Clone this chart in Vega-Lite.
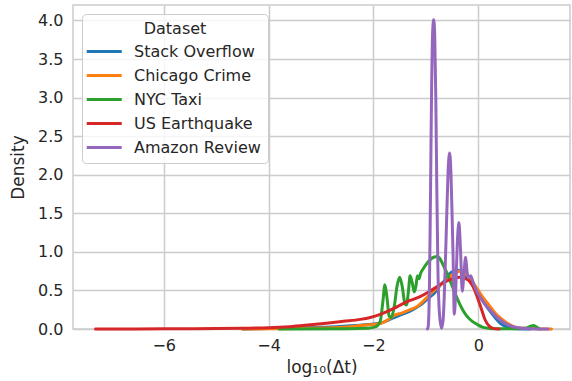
{
  "$schema": "https://vega.github.io/schema/vega-lite/v6.json",
  "width": 497,
  "height": 324,
  "autosize": "none",
  "padding": {"left": 73, "top": 5, "right": 2, "bottom": 52},
  "background": "white",
  "datasets": {
    "kde": [
      {"d": "Stack Overflow", "x": -4.5, "y": 0}, {"d": "Stack Overflow", "x": -4, "y": 0.005}, {"d": "Stack Overflow", "x": -3.5, "y": 0.012}, {"d": "Stack Overflow", "x": -3, "y": 0.022}, {"d": "Stack Overflow", "x": -2.5, "y": 0.04}, {"d": "Stack Overflow", "x": -2.25, "y": 0.05}, {"d": "Stack Overflow", "x": -2.0, "y": 0.065}, {"d": "Stack Overflow", "x": -1.85, "y": 0.08}, {"d": "Stack Overflow", "x": -1.62, "y": 0.146}, {"d": "Stack Overflow", "x": -1.45, "y": 0.19}, {"d": "Stack Overflow", "x": -1.3, "y": 0.23}, {"d": "Stack Overflow", "x": -1.15, "y": 0.29}, {"d": "Stack Overflow", "x": -1.05, "y": 0.34}, {"d": "Stack Overflow", "x": -0.95, "y": 0.4}, {"d": "Stack Overflow", "x": -0.83, "y": 0.47}, {"d": "Stack Overflow", "x": -0.72, "y": 0.57}, {"d": "Stack Overflow", "x": -0.6, "y": 0.66}, {"d": "Stack Overflow", "x": -0.54, "y": 0.72}, {"d": "Stack Overflow", "x": -0.47, "y": 0.75}, {"d": "Stack Overflow", "x": -0.4, "y": 0.76}, {"d": "Stack Overflow", "x": -0.33, "y": 0.75}, {"d": "Stack Overflow", "x": -0.25, "y": 0.7}, {"d": "Stack Overflow", "x": -0.16, "y": 0.62}, {"d": "Stack Overflow", "x": -0.08, "y": 0.54}, {"d": "Stack Overflow", "x": 0, "y": 0.46}, {"d": "Stack Overflow", "x": 0.08, "y": 0.37}, {"d": "Stack Overflow", "x": 0.16, "y": 0.29}, {"d": "Stack Overflow", "x": 0.25, "y": 0.21}, {"d": "Stack Overflow", "x": 0.33, "y": 0.14}, {"d": "Stack Overflow", "x": 0.41, "y": 0.08}, {"d": "Stack Overflow", "x": 0.5, "y": 0.04}, {"d": "Stack Overflow", "x": 0.6, "y": 0.012}, {"d": "Stack Overflow", "x": 0.75, "y": 0.003}, {"d": "Stack Overflow", "x": 1.0, "y": 0},

      {"d": "Chicago Crime", "x": -4.5, "y": 0}, {"d": "Chicago Crime", "x": -4, "y": 0.003}, {"d": "Chicago Crime", "x": -3.5, "y": 0.006}, {"d": "Chicago Crime", "x": -3, "y": 0.012}, {"d": "Chicago Crime", "x": -2.5, "y": 0.025}, {"d": "Chicago Crime", "x": -2.25, "y": 0.045}, {"d": "Chicago Crime", "x": -2.0, "y": 0.06}, {"d": "Chicago Crime", "x": -1.85, "y": 0.075}, {"d": "Chicago Crime", "x": -1.7, "y": 0.13}, {"d": "Chicago Crime", "x": -1.62, "y": 0.17}, {"d": "Chicago Crime", "x": -1.45, "y": 0.21}, {"d": "Chicago Crime", "x": -1.3, "y": 0.25}, {"d": "Chicago Crime", "x": -1.15, "y": 0.3}, {"d": "Chicago Crime", "x": -1.05, "y": 0.36}, {"d": "Chicago Crime", "x": -0.95, "y": 0.43}, {"d": "Chicago Crime", "x": -0.83, "y": 0.51}, {"d": "Chicago Crime", "x": -0.72, "y": 0.57}, {"d": "Chicago Crime", "x": -0.6, "y": 0.63}, {"d": "Chicago Crime", "x": -0.54, "y": 0.68}, {"d": "Chicago Crime", "x": -0.45, "y": 0.72}, {"d": "Chicago Crime", "x": -0.35, "y": 0.75}, {"d": "Chicago Crime", "x": -0.25, "y": 0.72}, {"d": "Chicago Crime", "x": -0.16, "y": 0.66}, {"d": "Chicago Crime", "x": -0.08, "y": 0.58}, {"d": "Chicago Crime", "x": 0, "y": 0.5}, {"d": "Chicago Crime", "x": 0.08, "y": 0.42}, {"d": "Chicago Crime", "x": 0.16, "y": 0.35}, {"d": "Chicago Crime", "x": 0.25, "y": 0.27}, {"d": "Chicago Crime", "x": 0.33, "y": 0.2}, {"d": "Chicago Crime", "x": 0.41, "y": 0.15}, {"d": "Chicago Crime", "x": 0.5, "y": 0.1}, {"d": "Chicago Crime", "x": 0.6, "y": 0.056}, {"d": "Chicago Crime", "x": 0.7, "y": 0.025}, {"d": "Chicago Crime", "x": 0.8, "y": 0.013}, {"d": "Chicago Crime", "x": 1.0, "y": 0.005}, {"d": "Chicago Crime", "x": 1.2, "y": 0.001}, {"d": "Chicago Crime", "x": 1.4, "y": 0},

      {"d": "NYC Taxi", "x": -3.8, "y": 0}, {"d": "NYC Taxi", "x": -2.5, "y": 0.003}, {"d": "NYC Taxi", "x": -2.1, "y": 0.01}, {"d": "NYC Taxi", "x": -1.95, "y": 0.03}, {"d": "NYC Taxi", "x": -1.87, "y": 0.1}, {"d": "NYC Taxi", "x": -1.82, "y": 0.35}, {"d": "NYC Taxi", "x": -1.78, "y": 0.575}, {"d": "NYC Taxi", "x": -1.74, "y": 0.4}, {"d": "NYC Taxi", "x": -1.7, "y": 0.17}, {"d": "NYC Taxi", "x": -1.66, "y": 0.15}, {"d": "NYC Taxi", "x": -1.6, "y": 0.3}, {"d": "NYC Taxi", "x": -1.55, "y": 0.55}, {"d": "NYC Taxi", "x": -1.5, "y": 0.67}, {"d": "NYC Taxi", "x": -1.45, "y": 0.55}, {"d": "NYC Taxi", "x": -1.4, "y": 0.33}, {"d": "NYC Taxi", "x": -1.37, "y": 0.31}, {"d": "NYC Taxi", "x": -1.33, "y": 0.5}, {"d": "NYC Taxi", "x": -1.3, "y": 0.69}, {"d": "NYC Taxi", "x": -1.26, "y": 0.6}, {"d": "NYC Taxi", "x": -1.22, "y": 0.48}, {"d": "NYC Taxi", "x": -1.19, "y": 0.55}, {"d": "NYC Taxi", "x": -1.16, "y": 0.69}, {"d": "NYC Taxi", "x": -1.13, "y": 0.65}, {"d": "NYC Taxi", "x": -1.1, "y": 0.72}, {"d": "NYC Taxi", "x": -1.05, "y": 0.78}, {"d": "NYC Taxi", "x": -1.0, "y": 0.83}, {"d": "NYC Taxi", "x": -0.93, "y": 0.89}, {"d": "NYC Taxi", "x": -0.85, "y": 0.93}, {"d": "NYC Taxi", "x": -0.78, "y": 0.94}, {"d": "NYC Taxi", "x": -0.72, "y": 0.9}, {"d": "NYC Taxi", "x": -0.67, "y": 0.83}, {"d": "NYC Taxi", "x": -0.6, "y": 0.73}, {"d": "NYC Taxi", "x": -0.54, "y": 0.63}, {"d": "NYC Taxi", "x": -0.48, "y": 0.53}, {"d": "NYC Taxi", "x": -0.41, "y": 0.41}, {"d": "NYC Taxi", "x": -0.35, "y": 0.32}, {"d": "NYC Taxi", "x": -0.29, "y": 0.24}, {"d": "NYC Taxi", "x": -0.22, "y": 0.17}, {"d": "NYC Taxi", "x": -0.15, "y": 0.12}, {"d": "NYC Taxi", "x": -0.05, "y": 0.07}, {"d": "NYC Taxi", "x": 0, "y": 0.05}, {"d": "NYC Taxi", "x": 0.08, "y": 0.025}, {"d": "NYC Taxi", "x": 0.16, "y": 0.012}, {"d": "NYC Taxi", "x": 0.3, "y": 0.004}, {"d": "NYC Taxi", "x": 0.6, "y": 0.002}, {"d": "NYC Taxi", "x": 0.9, "y": 0.01}, {"d": "NYC Taxi", "x": 1.0, "y": 0.035}, {"d": "NYC Taxi", "x": 1.05, "y": 0.045}, {"d": "NYC Taxi", "x": 1.1, "y": 0.03}, {"d": "NYC Taxi", "x": 1.17, "y": 0},

      {"d": "US Earthquake", "x": -7.3, "y": 0}, {"d": "US Earthquake", "x": -6.5, "y": 0.001}, {"d": "US Earthquake", "x": -6, "y": 0.002}, {"d": "US Earthquake", "x": -5.5, "y": 0.004}, {"d": "US Earthquake", "x": -5, "y": 0.007}, {"d": "US Earthquake", "x": -4.5, "y": 0.01}, {"d": "US Earthquake", "x": -4, "y": 0.016}, {"d": "US Earthquake", "x": -3.6, "y": 0.03}, {"d": "US Earthquake", "x": -3.2, "y": 0.055}, {"d": "US Earthquake", "x": -2.9, "y": 0.075}, {"d": "US Earthquake", "x": -2.57, "y": 0.1}, {"d": "US Earthquake", "x": -2.25, "y": 0.125}, {"d": "US Earthquake", "x": -2.06, "y": 0.15}, {"d": "US Earthquake", "x": -1.87, "y": 0.19}, {"d": "US Earthquake", "x": -1.6, "y": 0.27}, {"d": "US Earthquake", "x": -1.49, "y": 0.31}, {"d": "US Earthquake", "x": -1.3, "y": 0.37}, {"d": "US Earthquake", "x": -1.11, "y": 0.42}, {"d": "US Earthquake", "x": -0.95, "y": 0.48}, {"d": "US Earthquake", "x": -0.83, "y": 0.53}, {"d": "US Earthquake", "x": -0.72, "y": 0.58}, {"d": "US Earthquake", "x": -0.54, "y": 0.64}, {"d": "US Earthquake", "x": -0.35, "y": 0.67}, {"d": "US Earthquake", "x": -0.2, "y": 0.64}, {"d": "US Earthquake", "x": -0.1, "y": 0.55}, {"d": "US Earthquake", "x": 0, "y": 0.38}, {"d": "US Earthquake", "x": 0.06, "y": 0.26}, {"d": "US Earthquake", "x": 0.13, "y": 0.12}, {"d": "US Earthquake", "x": 0.22, "y": 0.03}, {"d": "US Earthquake", "x": 0.3, "y": 0.005}, {"d": "US Earthquake", "x": 0.4, "y": 0},

      {"d": "Amazon Review", "x": -0.97, "y": 0}, {"d": "Amazon Review", "x": -0.955, "y": 0.03}, {"d": "Amazon Review", "x": -0.93, "y": 0.6}, {"d": "Amazon Review", "x": -0.91, "y": 1.8}, {"d": "Amazon Review", "x": -0.89, "y": 3.1}, {"d": "Amazon Review", "x": -0.87, "y": 3.85}, {"d": "Amazon Review", "x": -0.85, "y": 4.01}, {"d": "Amazon Review", "x": -0.83, "y": 3.8}, {"d": "Amazon Review", "x": -0.81, "y": 3.0}, {"d": "Amazon Review", "x": -0.79, "y": 1.8}, {"d": "Amazon Review", "x": -0.77, "y": 0.8}, {"d": "Amazon Review", "x": -0.74, "y": 0.2}, {"d": "Amazon Review", "x": -0.7, "y": 0.01}, {"d": "Amazon Review", "x": -0.67, "y": 0.12}, {"d": "Amazon Review", "x": -0.63, "y": 0.8}, {"d": "Amazon Review", "x": -0.6, "y": 1.5}, {"d": "Amazon Review", "x": -0.575, "y": 2.05}, {"d": "Amazon Review", "x": -0.545, "y": 2.28}, {"d": "Amazon Review", "x": -0.52, "y": 2.0}, {"d": "Amazon Review", "x": -0.5, "y": 1.5}, {"d": "Amazon Review", "x": -0.48, "y": 0.95}, {"d": "Amazon Review", "x": -0.457, "y": 0.19}, {"d": "Amazon Review", "x": -0.43, "y": 0.5}, {"d": "Amazon Review", "x": -0.4, "y": 1.1}, {"d": "Amazon Review", "x": -0.37, "y": 1.38}, {"d": "Amazon Review", "x": -0.34, "y": 1.05}, {"d": "Amazon Review", "x": -0.305, "y": 0.49}, {"d": "Amazon Review", "x": -0.27, "y": 0.75}, {"d": "Amazon Review", "x": -0.24, "y": 0.93}, {"d": "Amazon Review", "x": -0.215, "y": 0.75}, {"d": "Amazon Review", "x": -0.19, "y": 0.66}, {"d": "Amazon Review", "x": -0.145, "y": 0.69}, {"d": "Amazon Review", "x": -0.1, "y": 0.61}, {"d": "Amazon Review", "x": -0.05, "y": 0.52}, {"d": "Amazon Review", "x": 0.03, "y": 0.42}, {"d": "Amazon Review", "x": 0.12, "y": 0.33}, {"d": "Amazon Review", "x": 0.22, "y": 0.25}, {"d": "Amazon Review", "x": 0.41, "y": 0.12}, {"d": "Amazon Review", "x": 0.6, "y": 0.043}, {"d": "Amazon Review", "x": 0.79, "y": 0.013}, {"d": "Amazon Review", "x": 1.0, "y": 0.004}, {"d": "Amazon Review", "x": 1.33, "y": 0}
    ]
  },
  "data": {"name": "kde"},
  "mark": {"type": "line", "strokeWidth": 3, "interpolate": "monotone", "strokeCap": "round", "strokeJoin": "round"},
  "encoding": {
    "x": {
      "field": "x", "type": "quantitative",
      "scale": {"domain": [-7.73, 1.75], "nice": false, "zero": false},
      "axis": {"title": "log₁₀(Δt)", "values": [-6, -4, -2, 0], "format": "d", "labelPadding": 8, "titlePadding": 6}
    },
    "y": {
      "field": "y", "type": "quantitative",
      "scale": {"domain": [0, 4.2], "nice": false, "zero": false},
      "axis": {"title": "Density", "values": [0, 0.5, 1, 1.5, 2, 2.5, 3, 3.5, 4], "format": ".1f", "labelPadding": 10, "titlePadding": 10}
    },
    "color": {
      "field": "d", "type": "nominal",
      "scale": {
        "domain": ["Stack Overflow", "Chicago Crime", "NYC Taxi", "US Earthquake", "Amazon Review"],
        "range": ["#1f77b4", "#ff7f0e", "#2ca02c", "#d62728", "#9467bd"]
      },
      "legend": {
        "title": "Dataset",
        "orient": "none",
        "legendX": 9,
        "legendY": 9,
        "symbolType": "M-1.54,0H3.46",
        "symbolSize": 196,
        "symbolStrokeWidth": 3,
        "rowPadding": 7,
        "labelOffset": 28,
        "padding": 7,
        "titlePadding": 6,
        "titleAnchor": "middle",
        "fillColor": "rgba(255,255,255,0.8)",
        "strokeColor": "#cccccc",
        "cornerRadius": 4
      }
    }
  },
  "config": {
    "font": "DejaVu Sans",
    "view": {"stroke": "#cccccc", "strokeWidth": 1.5},
    "axis": {
      "grid": true, "gridColor": "#cccccc", "gridWidth": 1.5, "domain": false, "ticks": false,
      "labelFontSize": 16, "labelColor": "#262626", "titleFontSize": 17, "titleFontWeight": "normal", "titleColor": "#262626"
    },
    "legend": {
      "labelFontSize": 16, "labelColor": "#262626", "titleFontSize": 16, "titleFontWeight": "normal", "titleColor": "#262626", "labelLimit": 300
    }
  }
}
